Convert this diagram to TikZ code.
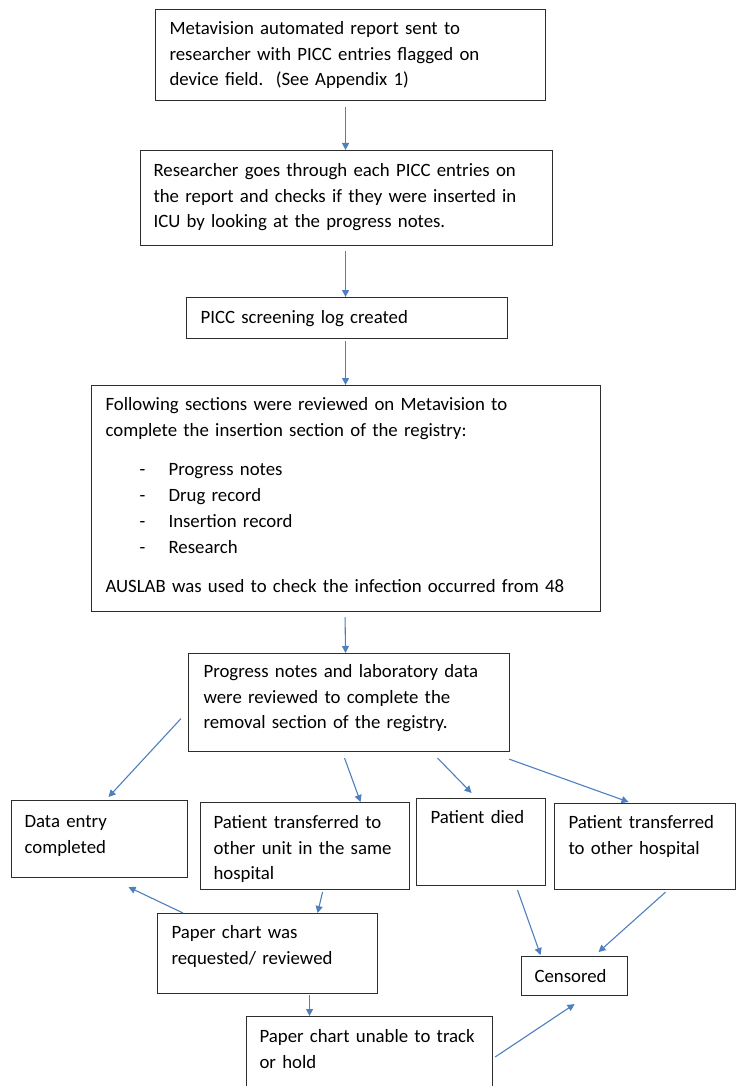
\documentclass[tikz,border=0pt]{standalone}
\usepackage{fontspec}
\setmainfont{Carlito}
\usepackage{xcolor}
\usepackage{tikz}
\usetikzlibrary{arrows.meta,positioning}
\definecolor{flowblue}{RGB}{78,128,192}
\definecolor{ink}{RGB}{45,45,45}

\begin{document}
\begin{tikzpicture}[
  x=1pt, y=-1pt,
  font=\fontsize{18.8}{25.7}\selectfont,
  blk/.style={draw=ink, line width=1.1pt, anchor=north west, align=left, inner ysep=0pt},
  arr/.style={-{Triangle[length=7pt,width=7pt]}, line width=1.1pt, flowblue},
]
\useasboundingbox (0,0) rectangle (737,1086);
\fill[white] (0,0) rectangle (737,1086);
% top column
\node[blk, inner xsep=14pt, text width=362pt, text height=25pt, text depth=66pt] (meta) at (155,9)
  {Metavision automated report sent to\\researcher with PICC entries flagged on\\device field.\ \ (See Appendix 1)};
\node[blk, inner xsep=13pt, text width=386pt, text height=26pt, text depth=69pt] (review) at (140,150)
  {Researcher goes through each PICC entries on\\the report and checks if they were inserted in\\ICU by looking at the progress notes.};
\node[blk, inner xsep=14pt, text width=293pt, text height=26pt, text depth=15pt] (screen) at (186,297)
  {PICC screening log created};
\node[blk, inner xsep=14pt, text width=481pt, text height=25pt, text depth=201pt] (sections) at (91,385)
  {Following sections were reviewed on Metavision to\\complete the insertion section of the registry:\\[14pt]
   \hspace*{34pt}\makebox[29pt][l]{-}Progress notes\\
   \hspace*{34pt}\makebox[29pt][l]{-}Drug record\\
   \hspace*{34pt}\makebox[29pt][l]{-}Insertion record\\
   \hspace*{34pt}\makebox[29pt][l]{-}Research\\[14pt]
   AUSLAB was used to check the infection occurred from 48};
\node[blk, inner xsep=15pt, text width=291pt, text height=24pt, text depth=74pt] (prog) at (188,653)
  {Progress notes and laboratory data\\were reviewed to complete the\\removal section of the registry.};
% outcomes
\node[blk, inner xsep=13pt, text width=150pt, text height=27pt, text depth=50pt] (dentry) at (11,800)
  {Data entry\\completed};
\node[blk, inner xsep=13pt, text width=183pt, text height=26pt, text depth=61pt] (same) at (200,802)
  {Patient transferred to\\other unit in the same\\hospital};
\node[blk, inner xsep=14pt, text width=101pt, text height=25pt, text depth=62pt] (died) at (416,798)
  {Patient died};
\node[blk, inner xsep=14pt, text width=153pt, text height=25pt, text depth=61pt] (other) at (554,803)
  {Patient transferred\\to other hospital};
\node[blk, inner xsep=14pt, text width=192pt, text height=25pt, text depth=55pt] (chart) at (157,913)
  {Paper chart was\\requested/ reviewed};
\node[blk, inner xsep=13pt, text width=80pt, text height=26pt, text depth=13pt] (censor) at (521,956)
  {Censored};
\node[blk, inner xsep=13pt, text width=220pt, text height=26pt, text depth=50pt] (unable) at (246,1016)
  {Paper chart unable to track\\or hold};
% connectors
\draw[arr] ([xshift=-5pt,yshift=-6pt]meta.south) -- ([xshift=-1pt]review.north);
\draw[arr] ([xshift=-1pt,yshift=-5pt]review.south) -- ([xshift=-1.5pt]screen.north);
\draw[arr] ([xshift=-1.5pt,yshift=-2pt]screen.south) -- ([xshift=-0.5pt]sections.north);
\draw[arr] ([xshift=-1pt,yshift=-5pt]sections.south) -- ([xshift=-3.5pt]prog.north);
\draw[arr] ([xshift=-7pt,yshift=-16pt]prog.west) -- ([xshift=9pt,yshift=3pt]dentry.north);
\draw[arr] ([xshift=-4.5pt,yshift=-6pt]prog.south) -- ([xshift=55.5pt]same.north);
\draw[arr] ([xshift=88.5pt,yshift=-6pt]prog.south) -- ([xshift=-9.5pt,yshift=5pt]died.north);
\draw[arr] ([xshift=-1pt,yshift=-7pt]prog.south east) -- ([xshift=-16.5pt,yshift=1pt]other.north);
\draw[arr] ([xshift=17.5pt,yshift=-2pt]same.south) -- ([xshift=50pt]chart.north);
\draw[arr] ([xshift=26pt]chart.north west) -- ([xshift=29pt,yshift=-9pt]dentry.south);
\draw[arr] ([xshift=36.5pt,yshift=-4pt]died.south) -- ([xshift=-34pt,yshift=1pt]censor.north);
\draw[arr] ([xshift=20.5pt,yshift=-2pt]other.south) -- ([xshift=24pt,yshift=4pt]censor.north);
\draw[arr] ([xshift=42pt,yshift=-1pt]chart.south) -- ([xshift=-60pt]unable.north);
\draw[arr] ([xshift=2pt,yshift=-41pt]unable.north east) -- ([yshift=-8pt]censor.south);
\end{tikzpicture}
\end{document}
